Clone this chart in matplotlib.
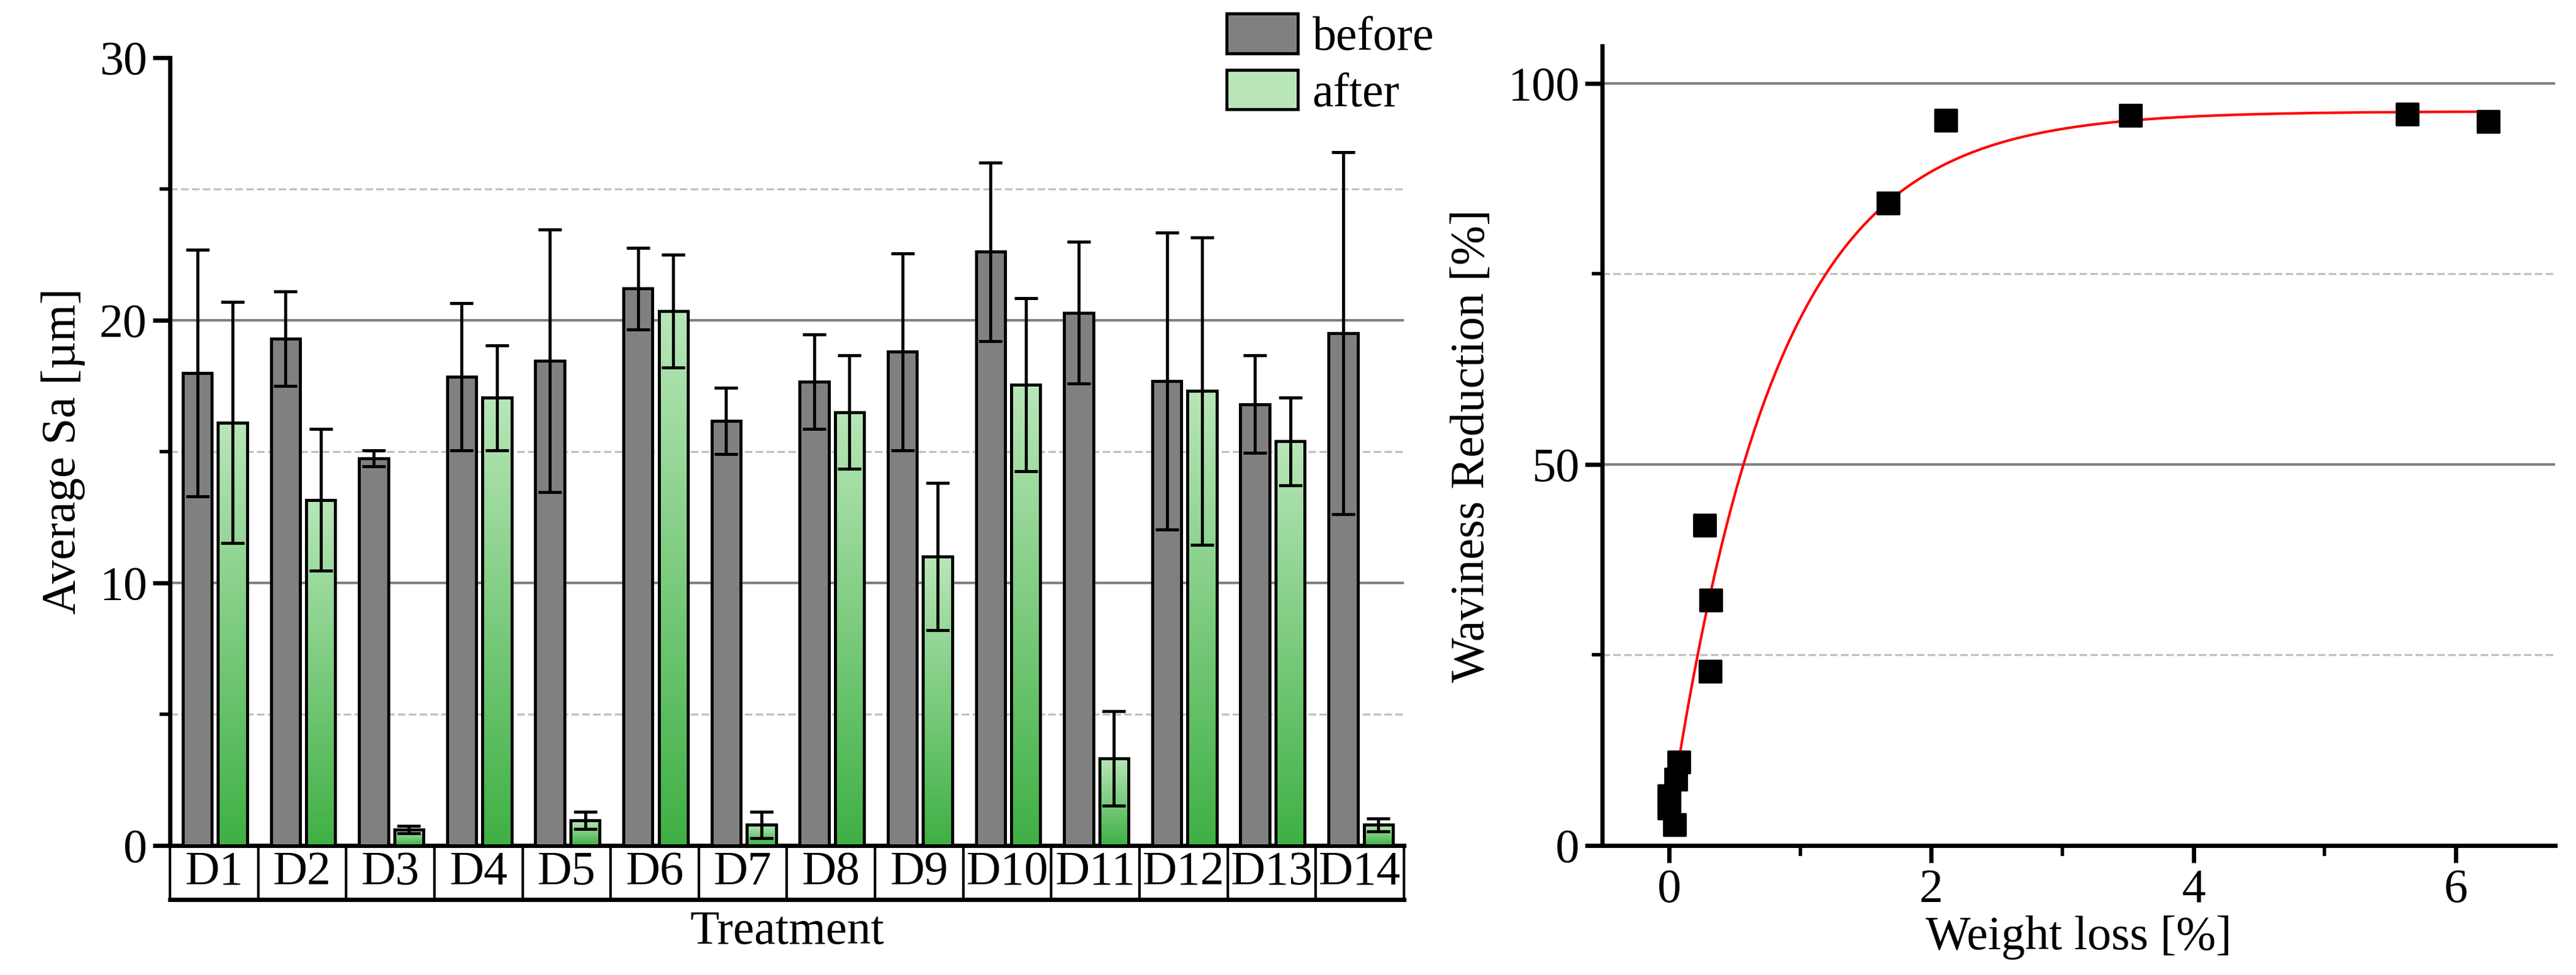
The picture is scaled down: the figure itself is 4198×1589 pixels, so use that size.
import matplotlib
matplotlib.use("Agg")
import matplotlib.pyplot as plt
import matplotlib.transforms as mtrans
from matplotlib.patches import Rectangle
from matplotlib.colors import LinearSegmentedColormap
import numpy as np

plt.rcParams["font.family"] = "Liberation Serif"
plt.rcParams["font.size"] = 28

categories = ["D1", "D2", "D3", "D4", "D5", "D6", "D7", "D8", "D9", "D10", "D11", "D12", "D13", "D14"]
before = [17.98, 19.3, 14.74, 17.84, 18.46, 21.2, 16.16, 17.65, 18.8, 22.6, 20.28, 17.68, 16.8, 19.5]
before_err = [4.7, 1.8, 0.3, 2.8, 5.0, 1.55, 1.26, 1.8, 3.75, 3.4, 2.7, 5.66, 1.85, 6.9]
after = [16.1, 13.15, 0.6, 17.04, 0.95, 20.35, 0.78, 16.5, 11.0, 17.54, 3.3, 17.3, 15.38, 0.78]
after_err = [4.6, 2.7, 0.15, 2.0, 0.33, 2.15, 0.5, 2.15, 2.8, 3.3, 1.8, 5.85, 1.68, 0.24]

wl_x = [0.27, 0.32, 0.315, 1.67, 2.11, 3.52, 5.63, 6.25, 0.073, 0.05, 0.0, 0.0, 0.04, 0.0]
wl_y = [42.0, 32.2, 22.8, 84.3, 95.1, 95.8, 95.9, 95.0, 10.9, 8.7, 6.5, 4.9, 2.7, 5.7]
fit_y0, fit_a, fit_t = 3.0, 93.3, 0.81

fig = plt.figure(figsize=(20.99, 7.945), dpi=200)

# ---- left: bar chart ----
ax = fig.add_axes([0.066, 0.133, 0.479, 0.808])
x = np.arange(len(categories))
w = 0.33
gray_x = x + 0.31
green_x = x + 0.71
ax.bar(gray_x, before, w, color="#808080", edgecolor="black", linewidth=1.8, zorder=3, label="before")
ax.errorbar(gray_x, before, yerr=before_err, fmt="none", ecolor="black", elinewidth=1.8, capsize=7, capthick=1.8, zorder=4)

cmap = LinearSegmentedColormap.from_list("g", ["#3fb044", "#b8e6b8"])
grad = np.linspace(0, 1, 256).reshape(-1, 1)
for xi, v in zip(green_x, after):
    rect = Rectangle((xi - w / 2, 0), w, v, facecolor="none", edgecolor="black", linewidth=1.8, zorder=4)
    ax.add_patch(rect)
    im = ax.imshow(grad, cmap=cmap, origin="lower", aspect="auto",
                   extent=(xi - w / 2, xi + w / 2, 0, v), zorder=3)
    im.set_clip_path(rect)
ax.errorbar(green_x, after, yerr=after_err, fmt="none", ecolor="black", elinewidth=1.8, capsize=7, capthick=1.8, zorder=5)
ax.bar([0], [0], color="#b8e6b8", edgecolor="black", linewidth=1.8, label="after")

ax.set_xlim(0, len(categories))
ax.set_ylim(0, 30)
ax.set_yticks([0, 10, 20, 30])
ax.set_yticks([5, 15, 25], minor=True)
ax.set_xticks([])
for v in [10, 20]:
    ax.axhline(v, color="#808080", lw=1.5, zorder=1)
for v in [5, 15, 25]:
    ax.axhline(v, color="#c0c0c0", lw=1.2, ls="--", zorder=1)
for s in ["top", "right"]:
    ax.spines[s].set_visible(False)
ax.spines["left"].set_linewidth(2.5)
ax.spines["bottom"].set_linewidth(2.5)
ax.tick_params(axis="y", which="major", length=10, width=2.5, direction="out")
ax.tick_params(axis="y", which="minor", length=6, width=2, direction="out")
ax.set_ylabel("Average Sa [µm]", labelpad=8)

trans = mtrans.blended_transform_factory(ax.transData, ax.transAxes)
bh = 0.069
for i, c in enumerate(categories):
    ax.add_patch(Rectangle((i, -bh), 1, bh, transform=trans, facecolor="white",
                           edgecolor="black", linewidth=1.5, clip_on=False))
    ax.text(i + 0.5, -bh / 2, c, transform=trans, ha="center", va="center", fontsize=28)
ax.plot([0, len(categories)], [-bh, -bh], transform=trans, color="black", lw=2.5, clip_on=False)
ax.text(0.5, -0.11, "Treatment", transform=ax.transAxes, ha="center", va="center", fontsize=28)
ax.legend(loc="upper right", bbox_to_anchor=(1.04, 1.08), frameon=False, fontsize=28,
          handlelength=1.5, handleheight=0.9, handletextpad=0.3, labelspacing=0.2, borderaxespad=0)

# ---- right: scatter with fit ----
ax2 = fig.add_axes([0.622, 0.133, 0.37, 0.82])
xf = np.linspace(0, max(wl_x), 300)
ax2.plot(xf, fit_y0 + fit_a * (1 - np.exp(-xf / fit_t)), color="red", lw=1.5, zorder=3)
ax2.scatter(wl_x, wl_y, marker="s", s=160, color="black", zorder=4)
ax2.set_xlim(-0.51, 6.76)
ax2.set_ylim(0, 104.9)
ax2.set_xticks([0, 2, 4, 6])
ax2.set_xticks([1, 3, 5], minor=True)
ax2.set_yticks([0, 50, 100])
ax2.set_yticks([25, 75], minor=True)
for v in [50, 100]:
    ax2.axhline(v, color="#808080", lw=1.5, zorder=1)
for v in [25, 75]:
    ax2.axhline(v, color="#c0c0c0", lw=1.2, ls="--", zorder=1)
for s in ["top", "right"]:
    ax2.spines[s].set_visible(False)
ax2.spines["left"].set_linewidth(2.5)
ax2.spines["bottom"].set_linewidth(2.5)
ax2.tick_params(which="major", length=10, width=2.5, direction="out")
ax2.tick_params(which="minor", length=6, width=2, direction="out")
ax2.set_xlabel("Weight loss [%]", labelpad=2)
ax2.set_ylabel("Waviness Reduction [%]", labelpad=8)

fig.savefig("out.png", dpi=200)
